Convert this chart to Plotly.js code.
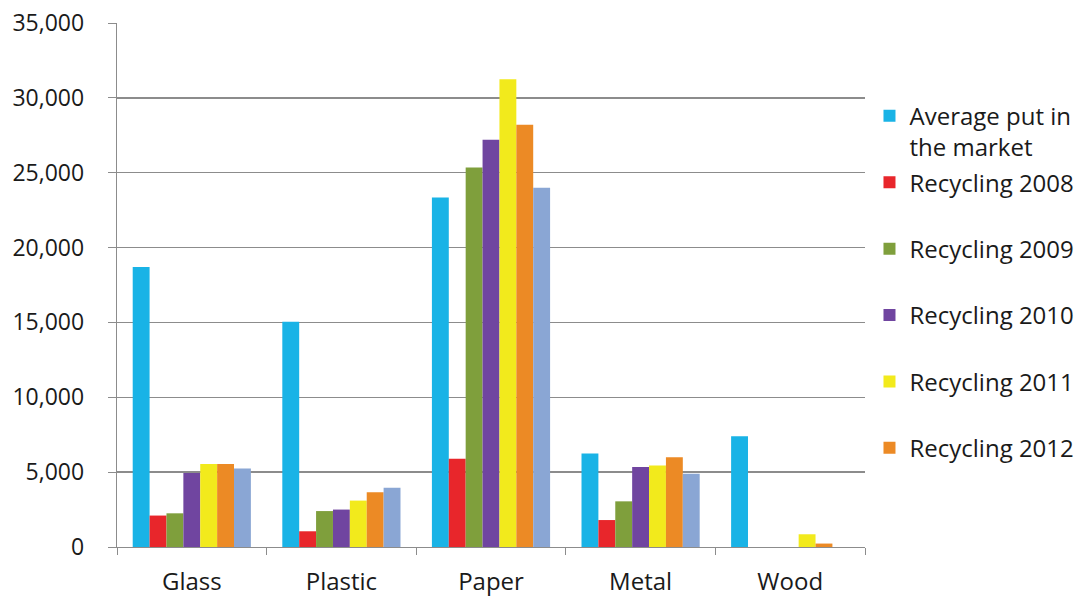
<!DOCTYPE html>
<html>
<head>
<meta charset="utf-8">
<script src="https://cdn.plot.ly/plotly-3.0.1.min.js"></script>
<style>html,body{margin:0;padding:0;background:#fff;}#chart{width:1080px;height:596px;}</style>
</head>
<body>
<div id="chart"></div>
<script>
const categories = ["Glass", "Plastic", "Paper", "Metal", "Wood"];
const seriesNames = ["Average put in<br>the market", "Recycling 2008<br>&nbsp;", "Recycling 2009<br>&nbsp;", "Recycling 2010<br>&nbsp;", "Recycling 2011<br>&nbsp;", "Recycling 2012<br>&nbsp;", "Recycling 2013"];
const averageMarket = [18700, 15050, 23350, 6250, 7400];
const recycling2008 = [2100, 1050, 5900, 1800, null];
const recycling2009 = [2250, 2400, 25350, 3050, null];
const recycling2010 = [4950, 2500, 27200, 5350, null];
const recycling2011 = [5550, 3100, 31250, 5450, 850];
const recycling2012 = [5550, 3650, 28200, 6000, 230];
const recycling2013 = [5250, 3950, 24000, 4900, null];
const seriesValues = [averageMarket, recycling2008, recycling2009, recycling2010, recycling2011, recycling2012, recycling2013];
const colors = ["#19b3e6", "#e8262b", "#7f9f3c", "#7045a0", "#f2ea1c", "#ec8a25", "#8aa6d4"];
const inLegend = [true, true, true, true, true, true, false];

const traces = seriesValues.map((vals, i) => ({
  type: "bar",
  name: seriesNames[i],
  x: categories,
  y: vals,
  marker: { color: colors[i] },
  legendgroup: "g" + i,
  showlegend: inLegend[i],
  hoverinfo: "y"
}));

const fontFamily = "Open Sans, Lato, sans-serif";

const layout = {
  width: 1080,
  height: 596,
  margin: { l: 117, r: 215, t: 23, b: 49, autoexpand: false },
  paper_bgcolor: "#ffffff",
  plot_bgcolor: "#ffffff",
  barmode: "group",
  bargap: 0.21,
  bargroupgap: 0,
  showlegend: true,
  legend: {
    x: 1.006,
    xanchor: "left",
    y: 0.865,
    yanchor: "top",
    traceorder: "grouped",
    tracegroupgap: 1,
    valign: "top",
    font: { family: fontFamily, size: 24, color: "#1a1a1a" },
    bgcolor: "rgba(0,0,0,0)"
  },
  xaxis: {
    type: "category",
    showline: true,
    linecolor: "#8c8c8c",
    linewidth: 1.3,
    ticks: "outside",
    tickson: "boundaries",
    ticklen: 7,
    tickcolor: "#8c8c8c",
    tickfont: { family: fontFamily, size: 24, color: "#1a1a1a" },
    ticklabelstandoff: 13,
    showgrid: false
  },
  yaxis: {
    range: [0, 35000],
    dtick: 5000,
    tickformat: ",",
    showline: true,
    linecolor: "#8c8c8c",
    linewidth: 1.3,
    ticks: "outside",
    ticklen: 8,
    tickcolor: "#8c8c8c",
    tickfont: { family: fontFamily, size: 23, color: "#1a1a1a" },
    ticklabelstandoff: 19,
    showgrid: true,
    gridcolor: "#8c8c8c",
    gridwidth: 1.3,
    zeroline: false
  }
};

Plotly.newPlot("chart", traces, layout, { displayModeBar: false, staticPlot: true });
</script>
</body>
</html>
